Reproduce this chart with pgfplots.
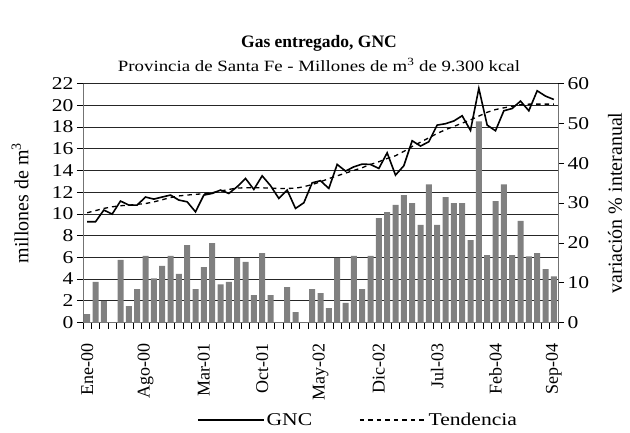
\documentclass[border=0pt]{standalone}
\usepackage{fontspec}
\setmainfont{Liberation Serif}
\newfontfamily\wide{Liberation Serif}[FakeStretch=1.2]
\usepackage{pgfplots}
\usepackage{pgfplotstable}
\pgfplotsset{compat=1.18}

\pgfplotstableread{
mes gnc tend var
0 9.27 10.10 2.1
1 9.27 10.30 10.2
2 10.35 10.50 5.4
3 9.98 10.65 nan
4 11.18 10.75 15.7
5 10.81 10.80 4.1
6 10.81 10.88 8.4
7 11.55 10.95 16.7
8 11.36 11.10 11.1
9 11.55 11.30 14.2
10 11.73 11.50 16.7
11 11.27 11.65 12.2
12 11.11 11.73 19.4
13 10.19 11.80 8.4
14 11.73 11.85 13.9
15 11.88 11.95 19.9
16 12.19 12.10 9.6
17 11.88 12.25 10.2
18 12.50 12.38 16.2
19 13.26 12.40 15.2
20 12.25 12.40 6.9
21 13.50 12.40 17.4
22 12.60 12.36 6.9
23 11.42 12.34 nan
24 12.19 12.34 8.9
25 10.50 12.36 2.6
26 11.02 12.50 nan
27 12.86 12.70 8.4
28 13.05 12.95 7.4
29 12.34 13.25 3.6
30 14.55 13.50 16.2
31 13.94 13.75 4.9
32 14.33 14.00 16.7
33 14.58 14.25 8.4
34 14.55 14.55 16.7
35 14.18 14.80 26.2
36 15.62 15.10 27.7
37 13.57 15.35 29.5
38 14.43 15.75 32.0
39 16.73 16.20 30.0
40 16.24 16.60 24.5
41 16.64 17.00 34.7
42 18.17 17.40 24.5
43 18.30 17.75 31.5
44 18.55 18.05 30.0
45 19.03 18.35 30.0
46 17.68 18.65 20.7
47 21.55 19.00 50.5
48 18.17 19.35 16.9
49 17.65 19.60 30.5
50 19.49 19.76 34.7
51 19.70 19.90 16.9
52 20.38 20.05 25.5
53 19.49 20.10 16.6
54 21.33 20.10 17.4
55 20.84 20.10 13.4
56 20.53 20.10 11.6
}\datos

\pgfplotsset{
  base/.style={
    scale only axis,
    width=475pt, height=239pt,
    at={(83pt,109.5pt)}, anchor=south west,
    xmin=-0.5, xmax=56.5,
    y tick label style={font=\wide\fontsize{18}{20}\selectfont},
    x tick label style={font=\fontsize{18}{20}\selectfont},
    label style={font=\fontsize{20}{22}\selectfont},
    /pgf/number format/assume math mode=true,
  },
}

\begin{document}
\begin{tikzpicture}
\path[use as bounding box] (0,0) rectangle (630pt,432pt);

\node[font=\bfseries\fontsize{17.5}{20}\selectfont] at (319pt,389pt) {Gas entregado, GNC};
\node[font=\wide\fontsize{15.7}{18}\selectfont] at (319pt,367pt) {Provincia de Santa Fe - Millones de m\textsuperscript{3} de 9.300 kcal};

% eje izquierdo con grilla
\begin{axis}[base,
    ymin=0, ymax=22, ytick={0,2,...,22},
    axis y line*=left, axis x line*=bottom,
    axis line style={black!55, line width=0.8pt},
    ymajorgrids, grid style={black!85, line width=0.7pt},
    tick align=outside, major tick length=6pt,
    tick style={black, line width=0.6pt},
    xtick={-0.5,0.5,...,56.5},
    xticklabels={Ene-00,,,,,,,Ago-00,,,,,,,Mar-01,,,,,,,Oct-01,,,,,,,May-02,,,,,,,Dic-02,,,,,,,Jul-03,,,,,,,Feb-04,,,,,,,Sep-04,},
    x tick label style={xshift=4.17pt, yshift=-11pt, rotate=90, anchor=east},
    ylabel={millones de m\textsuperscript{3}},
    ylabel style={at={([xshift=-63pt]rel axis cs:0,0.5)}, anchor=center},
]
\end{axis}

% eje derecho: variacion
\begin{axis}[base,
    ymin=0, ymax=60, ytick={0,10,...,60},
    axis y line*=right, axis x line=none,
    axis line style={black!55, line width=0.8pt},
    tick align=outside, major tick length=6pt,
    tick style={black, line width=0.6pt},
    ylabel={variación \% interanual},
    ylabel style={at={([xshift=57pt]rel axis cs:1,0.5)}, anchor=center},
]
\addplot[ybar, bar width=6pt, fill=black!50, draw=none] table[x=mes, y=var] {\datos};
\end{axis}

% lineas
\begin{axis}[base,
    ymin=0, ymax=22, hide axis,
    legend columns=2,
    legend style={at={(0.579,-0.408)}, anchor=center, draw=none, fill=none,
      font=\wide\fontsize{18}{20}\selectfont,
      /tikz/every even column/.append style={column sep=45pt}},
    legend image code/.code={\draw[#1] (0pt,0pt) -- (66pt,0pt);},
]
\addplot[black, line width=1.6pt, line join=miter] table[x=mes, y=gnc] {\datos};
\addplot[black, line width=1.3pt, dash pattern=on 4.5pt off 4pt] table[x=mes, y=tend] {\datos};
\legend{GNC, Tendencia}
\end{axis}
\end{tikzpicture}
\end{document}
